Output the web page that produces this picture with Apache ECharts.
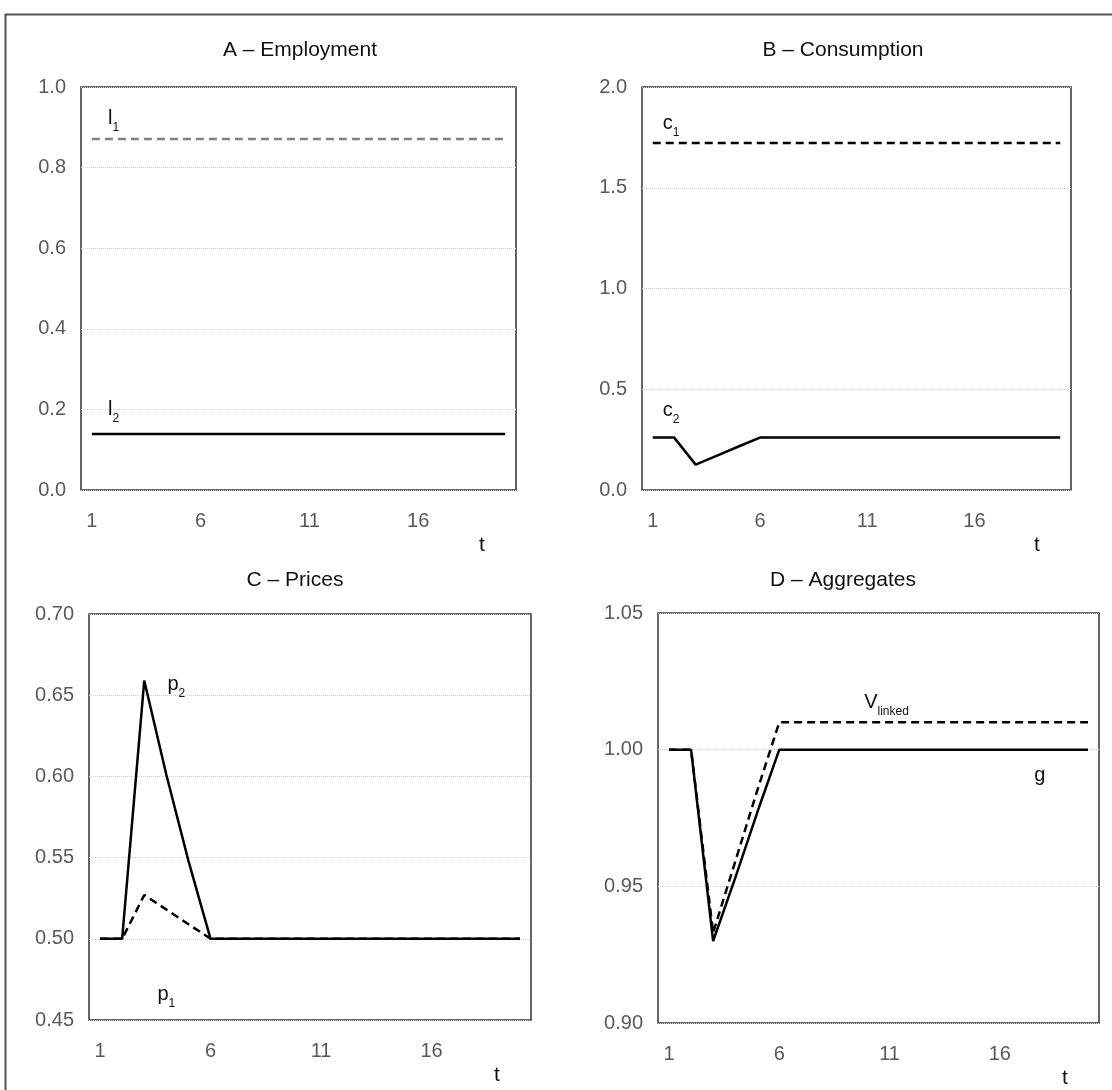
<!DOCTYPE html>
<html>
<head>
<meta charset="utf-8">
<script src="https://cdn.jsdelivr.net/npm/echarts@6/dist/echarts.min.js"></script>
<style>
  html,body{margin:0;padding:0;background:#fff;}
  #main{width:1112px;height:1090px;}
</style>
</head>
<body>
<div id="main"></div>
<script>
// periods t
const tCats = ['1','2','3','4','5','6','7','8','9','10','11','12','13','14','15','16','17','18','19','20'];
// A - employment
const l1 = [0.871,0.871,0.871,0.871,0.871,0.871,0.871,0.871,0.871,0.871,0.871,0.871,0.871,0.871,0.871,0.871,0.871,0.871,0.871,0.871];
const l2 = [0.139,0.139,0.139,0.139,0.139,0.139,0.139,0.139,0.139,0.139,0.139,0.139,0.139,0.139,0.139,0.139,0.139,0.139,0.139,0.139];
// B - consumption
const c1 = [1.722,1.722,1.722,1.722,1.722,1.722,1.722,1.722,1.722,1.722,1.722,1.722,1.722,1.722,1.722,1.722,1.722,1.722,1.722,1.722];
const c2 = [0.26,0.26,0.126,0.171,0.216,0.26,0.26,0.26,0.26,0.26,0.26,0.26,0.26,0.26,0.26,0.26,0.26,0.26,0.26,0.26];
// C - prices
const p1 = [0.5,0.5,0.527,0.518,0.509,0.5,0.5,0.5,0.5,0.5,0.5,0.5,0.5,0.5,0.5,0.5,0.5,0.5,0.5,0.5];
const p2 = [0.5,0.5,0.659,0.601,0.548,0.5,0.5,0.5,0.5,0.5,0.5,0.5,0.5,0.5,0.5,0.5,0.5,0.5,0.5,0.5];
// D - aggregates
const vLinked = [1,1,0.933,0.959,0.985,1.01,1.01,1.01,1.01,1.01,1.01,1.01,1.01,1.01,1.01,1.01,1.01,1.01,1.01,1.01];
const gAgg = [1,1,0.93,0.953,0.977,1,1,1,1,1,1,1,1,1,1,1,1,1,1,1];

const FONT = '"Liberation Sans", Arial, sans-serif';

const grids = [
  {left:81, top:87, width:435, height:403},   // A
  {left:642, top:87, width:429, height:403},  // B
  {left:89, top:614, width:442, height:406},  // C
  {left:658, top:613, width:441, height:410}  // D
];
const yRanges = [
  {min:0, max:1, interval:0.2, dec:1},
  {min:0, max:2, interval:0.5, dec:1},
  {min:0.45, max:0.7, interval:0.05, dec:2},
  {min:0.9, max:1.05, interval:0.05, dec:2}
];

// subscript label: base letter on top of the line box, index on its bottom
const rich = {
  b:{fontSize:20, fontFamily:FONT, color:'#111', lineHeight:25, verticalAlign:'top'},
  s:{fontSize:12, fontFamily:FONT, color:'#111', lineHeight:25, verticalAlign:'bottom'}
};
function tag(coord, text, offset){
  return {
    coord: coord,
    symbol:'circle', symbolSize:0,
    label:{show:true, position:'inside', formatter:text, rich:rich, offset:offset || [0,0]}
  };
}
function line(name, idx, data, dashed, color, tags){
  return {
    name:name, type:'line', xAxisIndex:idx, yAxisIndex:idx, data:data,
    symbol:'none', silent:true,
    lineStyle:{color:color || '#000', width:2.5, type: dashed ? [8,5] : 'solid'},
    markPoint: tags ? {silent:true, data:tags} : undefined
  };
}

const chart = echarts.init(document.getElementById('main'));
const option = {
  animation:false,
  backgroundColor:'#fff',
  title:[
    {text:'A – Employment', left:295, top:35, textAlign:'center'},
    {text:'B – Consumption', left:838, top:35, textAlign:'center'},
    {text:'C – Prices', left:290, top:565, textAlign:'center'},
    {text:'D – Aggregates', left:838, top:565, textAlign:'center'}
  ].map(t => Object.assign(t, {textStyle:{fontFamily:FONT, fontSize:21, fontWeight:'normal', color:'#111'}})),
  graphic:[
    {type:'rect', left:3, top:12, shape:{width:1200, height:1200}, style:{fill:'none', stroke:'#555', lineWidth:2}, silent:true}
  ],
  grid: grids.map(g => Object.assign({show:true, borderColor:'#333', borderWidth:1.5, backgroundColor:'transparent'}, g)),
  xAxis: grids.map((g, i) => ({
    type:'category', gridIndex:i, data:tCats, boundaryGap:true,
    axisLine:{show:false}, axisTick:{show:false},
    axisLabel:{interval:4, margin:21, fontFamily:FONT, fontSize:20, color:'#595959'},
    name:'t', nameLocation:'end', nameGap:-34,
    nameTextStyle:{fontFamily:FONT, fontSize:21, color:'#111', align:'center', verticalAlign:'top', padding:[45,0,0,0]}
  })),
  yAxis: yRanges.map((r, i) => ({
    type:'value', gridIndex:i, min:r.min, max:r.max, interval:r.interval,
    axisLine:{show:false}, axisTick:{show:false},
    axisLabel:{margin:15, fontFamily:FONT, fontSize:20, color:'#595959', padding:[0,0,5,0], formatter: v => v.toFixed(r.dec)},
    splitLine:{show:true, lineStyle:{color:'#cfcfcf', type:'dotted', width:1}}
  })),
  series:[
    line('l1', 0, l1, true, '#808080', [tag(['2',0.915], '{b|l}{s|1}')]),
    line('l2', 0, l2, false, '#000', [tag(['2',0.194], '{b|l}{s|2}')]),
    line('c1', 1, c1, true, '#000', [tag(['2',1.806], '{b|c}{s|1}', [-3,0])]),
    line('c2', 1, c2, false, '#000', [tag(['2',0.382], '{b|c}{s|2}', [-3,0])]),
    line('p1', 2, p1, true, '#000', [tag(['4',0.464], '{b|p}{s|1}')]),
    line('p2', 2, p2, false, '#000', [tag(['4',0.655], '{b|p}{s|2}', [10,0])]),
    line('V linked', 3, vLinked, true, '#000', [tag(['11',1.0152], '{b|V}{s|linked}', [-3,-3])]),
    line('g', 3, gAgg, false, '#000', [tag(['18',0.9896], '{b|g}', [-4,0])])
  ]
};
chart.setOption(option);
</script>
</body>
</html>
